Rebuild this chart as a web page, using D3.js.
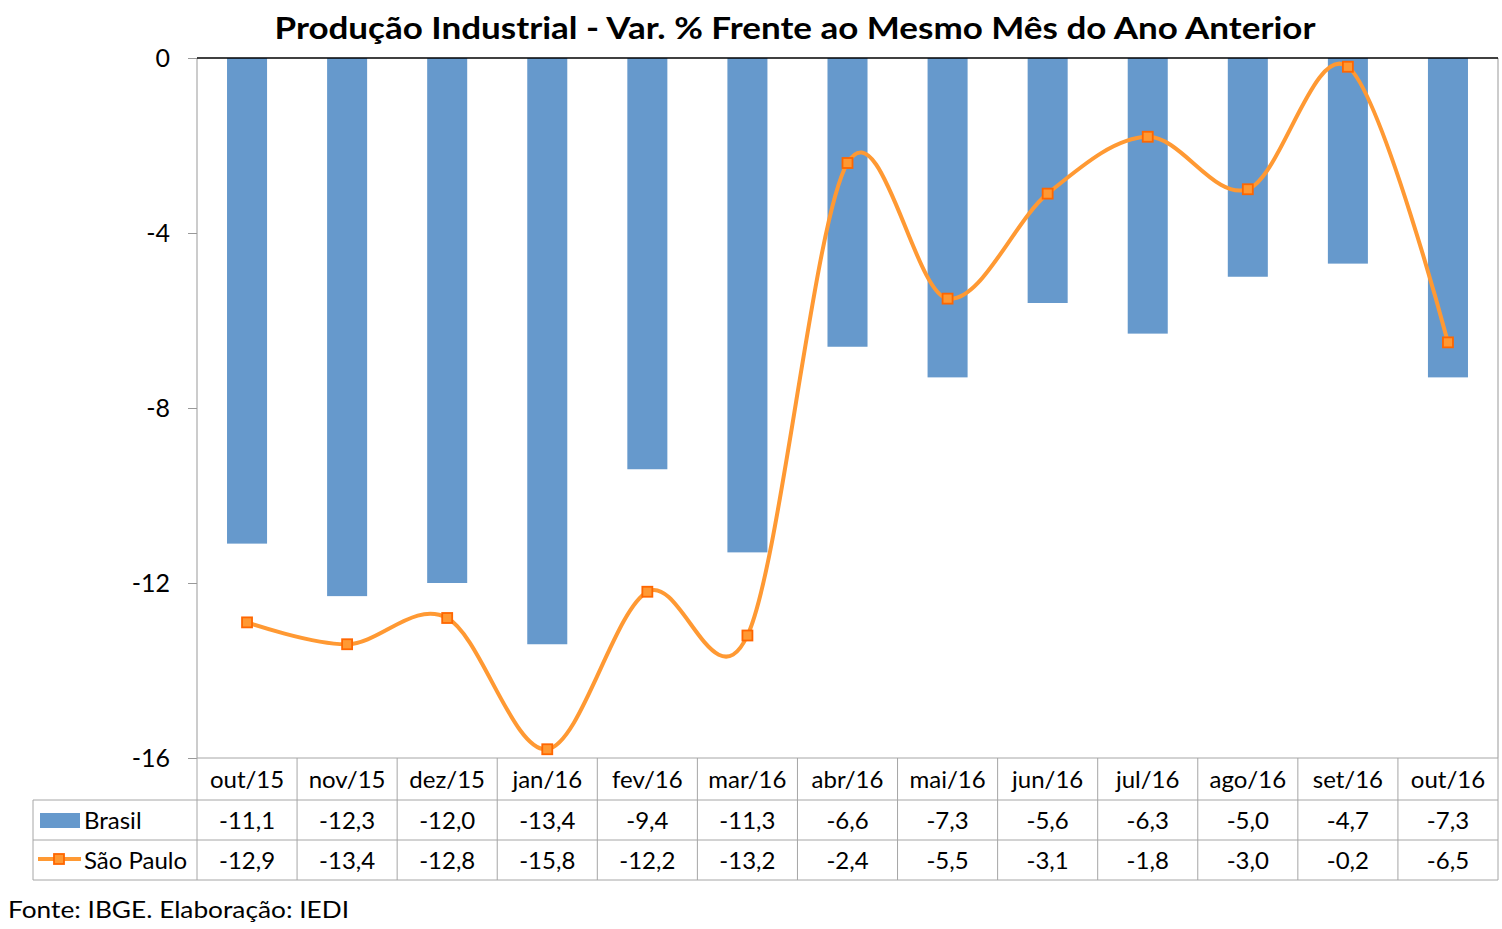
<!DOCTYPE html>
<html>
<head>
<meta charset="utf-8">
<script src="https://cdn.jsdelivr.net/npm/d3@7"></script>
<style>
  body { margin: 0; background: #fff; }
  text { font-family: Lato, "Open Sans", sans-serif; fill: #000; }
</style>
</head>
<body>
<div id="chart"></div>
<script>
var months = ["out/15", "nov/15", "dez/15", "jan/16", "fev/16", "mar/16", "abr/16",
  "mai/16", "jun/16", "jul/16", "ago/16", "set/16", "out/16"];
var brasil = [-11.1, -12.3, -12.0, -13.4, -9.4, -11.3, -6.6, -7.3, -5.6, -6.3, -5.0, -4.7, -7.3];
var saoPaulo = [-12.9, -13.4, -12.8, -15.8, -12.2, -13.2, -2.4, -5.5, -3.1, -1.8, -3.0, -0.2, -6.5];
var yTicks = [0, -4, -8, -12, -16];

var svgWidth = 1502;
var svgHeight = 929;
var plot = { left: 197, right: 1498, top: 58, bottom: 758 };
var rowH = 40;

var svg = d3.select("#chart").append("svg")
  .attr("width", svgWidth)
  .attr("height", svgHeight);

var x = d3.scaleBand().domain(months).range([plot.left, plot.right]).padding(0);
var xBar = d3.scaleBand().domain(months).range([plot.left, plot.right]).paddingInner(0.6).paddingOuter(0.3);
var y = d3.scaleLinear().domain([-16, 0]).range([plot.bottom, plot.top]);
var cx = d => x(d) + x.bandwidth() / 2;

// title
svg.append("text")
  .attr("x", 795)
  .attr("y", 39)
  .attr("text-anchor", "middle")
  .style("font-weight", "bold")
  .style("font-size", "31px")
  .attr("textLength", 1041)
  .attr("lengthAdjust", "spacingAndGlyphs")
  .text("Produção Industrial - Var. % Frente ao Mesmo Mês do Ano Anterior");

// bars
svg.append("g").selectAll("rect")
  .data(brasil)
  .enter()
  .append("rect")
  .attr("x", (d, i) => xBar(months[i]))
  .attr("width", xBar.bandwidth())
  .attr("y", y(0))
  .attr("height", d => y(d) - y(0))
  .attr("fill", "#6699cc");

// y axis
var leftAxis = d3.axisLeft(y).tickValues(yTicks).tickSize(9).tickPadding(18)
  .tickFormat(d => String(d));
var yAxis = svg.append("g")
  .attr("transform", `translate(${plot.left}, 0)`)
  .call(leftAxis);
yAxis.select(".domain").attr("stroke", "#999").attr("d", `M0,${plot.top}V${plot.bottom}`);
yAxis.selectAll(".tick line").attr("stroke", "#999");
yAxis.selectAll(".tick text")
  .style("font-size", "25px")
  .style("font-family", "Lato, 'Open Sans', sans-serif")
  .attr("fill", "#000");

// right border
svg.append("line")
  .attr("x1", plot.right).attr("x2", plot.right)
  .attr("y1", plot.top).attr("y2", plot.bottom)
  .attr("stroke", "#999");

// zero line
svg.append("line")
  .attr("x1", plot.left).attr("x2", plot.right)
  .attr("y1", y(0)).attr("y2", y(0))
  .attr("stroke", "#000").attr("stroke-width", 1.5);

// line series
var line = d3.line()
  .x((d, i) => cx(months[i]))
  .y(d => y(d))
  .curve(d3.curveCatmullRom.alpha(0));

svg.append("path")
  .datum(saoPaulo)
  .attr("d", line)
  .attr("fill", "none")
  .attr("stroke", "#ff9933")
  .attr("stroke-width", 4);

svg.append("g").selectAll("rect")
  .data(saoPaulo)
  .enter()
  .append("rect")
  .attr("x", (d, i) => cx(months[i]) - 5)
  .attr("y", d => y(d) - 5)
  .attr("width", 10)
  .attr("height", 10)
  .attr("fill", "#ff9933")
  .attr("stroke", "#ff6600")
  .attr("stroke-width", 1.8);

// data table
var table = svg.append("g");
var tableLeft = 33;
var gridColor = "#a6a6a6";
var fmt = v => d3.format(".1f")(v).replace(".", ",").replace("−", "-");

table.append("line")
  .attr("x1", plot.left).attr("x2", plot.right)
  .attr("y1", plot.bottom).attr("y2", plot.bottom)
  .attr("stroke", gridColor);
[1, 2, 3].forEach(function(r) {
  table.append("line")
    .attr("x1", tableLeft).attr("x2", plot.right)
    .attr("y1", plot.bottom + 2 + r * rowH).attr("y2", plot.bottom + 2 + r * rowH)
    .attr("stroke", gridColor);
});
table.append("line")
  .attr("x1", tableLeft).attr("x2", tableLeft)
  .attr("y1", plot.bottom + 2 + rowH).attr("y2", plot.bottom + 2 + 3 * rowH)
  .attr("stroke", gridColor);
months.concat(["end"]).forEach(function(m, i) {
  var xx = i < months.length ? x(m) : plot.right;
  table.append("line")
    .attr("x1", xx).attr("x2", xx)
    .attr("y1", plot.bottom).attr("y2", plot.bottom + 2 + 3 * rowH)
    .attr("stroke", gridColor);
});

table.selectAll(".cat")
  .data(months)
  .enter()
  .append("text")
  .attr("x", d => cx(d))
  .attr("y", plot.bottom + 30)
  .attr("text-anchor", "middle")
  .style("font-size", "24px")
  .text(d => d);

[brasil, saoPaulo].forEach(function(series, r) {
  table.append("g").selectAll("text")
    .data(series)
    .enter()
    .append("text")
    .attr("x", (d, i) => cx(months[i]))
    .attr("y", plot.bottom + 2 + rowH * (r + 1) + 29)
    .attr("text-anchor", "middle")
    .style("font-size", "24px")
    .text(d => fmt(d));
});

// legend keys
table.append("rect")
  .attr("x", 40).attr("y", 813).attr("width", 40).attr("height", 15)
  .attr("fill", "#6699cc");
table.append("text")
  .attr("x", 84).attr("y", plot.bottom + 2 + rowH + 29)
  .style("font-size", "24px")
  .text("Brasil");
table.append("line")
  .attr("x1", 38).attr("x2", 81).attr("y1", 859).attr("y2", 859)
  .attr("stroke", "#ff9933").attr("stroke-width", 4);
table.append("rect")
  .attr("x", 54).attr("y", 854).attr("width", 10).attr("height", 10)
  .attr("fill", "#ff9933").attr("stroke", "#ff6600").attr("stroke-width", 1.8);
table.append("text")
  .attr("x", 84).attr("y", plot.bottom + 2 + 2 * rowH + 29)
  .style("font-size", "24px")
  .text("São Paulo");

// source
svg.append("text")
  .attr("x", 8)
  .attr("y", 918)
  .style("font-size", "24px")
  .attr("textLength", 341)
  .attr("lengthAdjust", "spacingAndGlyphs")
  .text("Fonte: IBGE. Elaboração: IEDI");
</script>
</body>
</html>
